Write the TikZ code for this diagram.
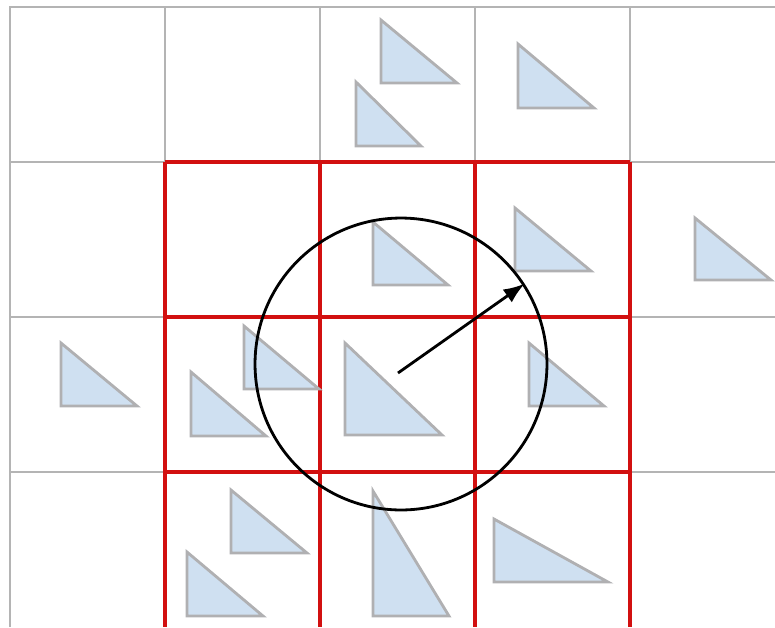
\documentclass[tikz,border=0pt]{standalone}
\usepackage{tikz}
\usetikzlibrary{arrows.meta}

\definecolor{gridgray}{RGB}{180,180,180}
\definecolor{cellred}{RGB}{210,16,16}
\definecolor{trifill}{RGB}{207,224,241}
\definecolor{triedge}{RGB}{176,176,178}

\begin{document}
\begin{tikzpicture}[
  x=0.02cm, y=-0.02cm,
  gridline/.style={draw=gridgray,line width=1.6pt},
  redline/.style={draw=cellred,line width=2pt},
  tri/.style={fill=trifill,draw=triedge,line width=1.6pt}
]
\useasboundingbox (0,0) rectangle (775,627);
% outer grid
\draw[gridline] (10,627) -- (10,7) -- (775,7);
\foreach \x in {165,320,475,630}
  \draw[gridline] (\x,7) -- (\x,162);
\foreach \y in {162,317,472} {
  \draw[gridline] (10,\y) -- (165,\y);
  \draw[gridline] (630,\y) -- (775,\y);
}
% neighbourhood cells
\foreach \x in {165,320,475,630}
  \draw[redline] (\x,162) -- (\x,627);
\foreach \y in {162,317,472}
  \draw[redline] (165,\y) -- (630,\y);
% triangles: left/top/bottom/right
\foreach \l/\t/\b/\r in {381/20/83/457, 356/82/146/421, 518/44/108/594,
    373/222/285/448, 515/208/271/591, 695/218/280/771,
    61/343/406/137, 244/326/389/319, 191/372/436/266,
    345/343/435/442, 529/343/406/604,
    231/490/553/307, 187/552/616/263, 373/491/616/449, 494/519/582/608}
  \draw[tri] (\l,\t) -- (\l,\b) -- (\r,\b) -- cycle;
% search radius
\coordinate (c) at (401,364);
\coordinate (src) at (398,373);
\node[circle,draw,line width=1.6pt,minimum size=5.84cm,inner sep=0pt] (ring) at (c) {};
\draw[line width=1.6pt,-{Latex[length=12pt,width=9pt]}] (src) -- (ring.33);
\end{tikzpicture}
\end{document}
